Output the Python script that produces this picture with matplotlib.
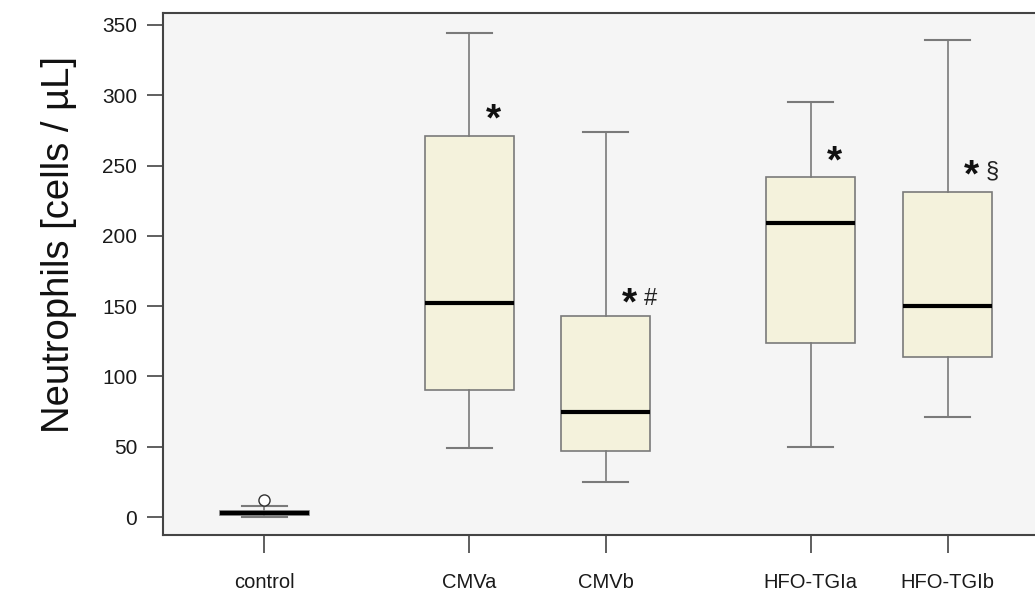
import matplotlib
matplotlib.use("Agg")
import matplotlib.pyplot as plt

plt.rcParams['font.family'] = ['Liberation Sans', 'DejaVu Sans']

# Group summaries (cells / µL)
groups = ["control", "CMVa", "CMVb", "HFO-TGIa", "HFO-TGIb"]
positions = [1.0, 2.5, 3.5, 5.0, 6.0]
whisker_low = [0, 49, 25, 50, 71]
q1 = [1.5, 90, 47, 124, 114]
median = [3, 152, 75, 209, 150]
q3 = [4, 271, 143, 242, 231]
whisker_high = [8, 344, 274, 295, 339]
outliers = [[12], [], [], [], []]

# Significance marks next to the boxes
sig_labels = ["", "*", "*#", "*", "*§"]
sig_y = [0, 282, 151, 252, 242]

stats = []
for g, lo, a, m, b, hi, fl in zip(groups, whisker_low, q1, median, q3, whisker_high, outliers):
    stats.append(dict(label=g, whislo=lo, q1=a, med=m, q3=b, whishi=hi, fliers=fl))

fig = plt.figure(figsize=(10.35, 5.95), dpi=100)
ax = fig.add_axes([163 / 1035, 60 / 595, 872 / 1035, 522 / 595])
ax.set_facecolor("#f5f5f5")

edge = "#7a7a7a"
ax.bxp(stats, positions=positions, widths=0.65, patch_artist=True,
       boxprops=dict(facecolor="#f4f2dc", edgecolor=edge, linewidth=1.2),
       whiskerprops=dict(color=edge, linewidth=1.2),
       capprops=dict(color=edge, linewidth=1.5),
       capwidths=0.33,
       medianprops=dict(color="black", linewidth=3),
       flierprops=dict(marker="o", markerfacecolor="white", markeredgecolor="#333333",
                       markersize=8, markeredgewidth=1))

for p, lab, y in zip(positions, sig_labels, sig_y):
    if not lab:
        continue
    star, rest = lab[0], lab[1:]
    ax.text(p + 0.12, y, star, fontsize=28, fontweight="bold",
            ha="left", va="center", color="#111111")
    if rest:
        ax.text(p + 0.28, y + 4, rest, fontsize=17, ha="left", va="center", color="#222222")

ax.set_xlim(0.26, 6.64)
ax.set_ylim(-12.8, 358.5)
ax.set_yticks([0, 50, 100, 150, 200, 250, 300, 350])
ax.set_xticks(positions)
ax.set_xticklabels(groups)
ax.tick_params(axis="y", length=11.5, width=1.2, color="#444444", labelsize=15, pad=7,
               labelcolor="#1a1a1a")
ax.tick_params(axis="x", length=13, width=1.2, color="#444444", labelsize=14.5, pad=14,
               labelcolor="#1a1a1a")

for side in ["left", "bottom", "top"]:
    ax.spines[side].set_color("#444444")
    ax.spines[side].set_linewidth(1.5)
ax.spines["right"].set_visible(False)

ax.set_ylabel("Neutrophils [cells / µL]", fontsize=27.5, color="#111111")
ax.yaxis.set_label_coords(-0.099, 0.556)

fig.savefig("out.png", dpi=100)
